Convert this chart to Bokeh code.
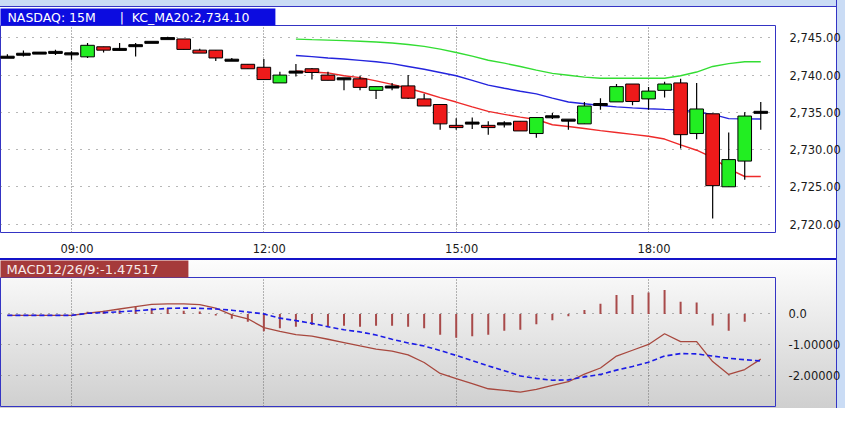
import numpy as np
from bokeh.plotting import figure
from bokeh.layouts import column
from bokeh.models import FixedTicker, NumeralTickFormatter, Range1d, Title
from bokeh.embed import file_html
from bokeh.resources import INLINE

# ---------------- data ----------------
time_ticks = [4, 16, 28, 40]
time_labels = ["09:00", "12:00", "15:00", "18:00"]

opens = [2742.4, 2742.8, 2742.95, 2743.05, 2742.85, 2742.45, 2743.8, 2743.45, 2743.95, 2744.4,
         2744.9, 2744.85, 2743.35, 2743.35, 2742.0, 2741.45, 2741.05, 2738.95, 2740.4, 2740.85,
         2740.0, 2739.5, 2739.5, 2737.95, 2738.4, 2738.55, 2736.8, 2736.05, 2733.25, 2733.55,
         2733.25, 2733.45, 2733.8, 2732.15, 2734.4, 2733.95, 2733.45, 2736.05, 2736.4, 2738.8,
         2736.8, 2737.95, 2738.95, 2732.15, 2734.8, 2725.0, 2728.45, 2735.0]
highs = [2742.8, 2743.3, 2742.95, 2743.4, 2743.2, 2744.3, 2743.8, 2744.3, 2744.3, 2744.4,
         2745.15, 2744.85, 2743.55, 2743.35, 2742.3, 2741.45, 2742.15, 2740.45, 2741.5, 2740.95,
         2740.45, 2739.5, 2739.9, 2738.45, 2738.95, 2740.0, 2737.5, 2736.05, 2734.2, 2734.3,
         2733.8, 2733.8, 2733.8, 2734.3, 2734.9, 2733.95, 2736.4, 2736.9, 2738.8, 2738.8,
         2738.4, 2739.1, 2739.5, 2738.95, 2734.8, 2732.3, 2735.0, 2736.4]
lows = [2742.4, 2742.5, 2742.95, 2742.7, 2742.05, 2742.3, 2743.05, 2743.3, 2742.5, 2744.4,
        2744.9, 2743.45, 2742.95, 2741.9, 2742.0, 2740.85, 2739.4, 2738.95, 2739.8, 2739.4,
        2739.3, 2737.95, 2737.95, 2736.8, 2737.95, 2736.8, 2735.85, 2732.65, 2732.65, 2732.75,
        2732.0, 2732.95, 2732.5, 2731.6, 2734.1, 2732.65, 2733.45, 2735.35, 2736.4, 2735.95,
        2735.35, 2737.0, 2730.15, 2731.4, 2720.75, 2725.0, 2725.95, 2732.65]
closes = [2742.4, 2742.8, 2742.95, 2743.05, 2742.85, 2744.0, 2743.35, 2743.45, 2743.95, 2744.4,
          2744.9, 2743.45, 2742.95, 2742.3, 2742.0, 2740.85, 2739.4, 2740.0, 2740.4, 2740.35,
          2739.3, 2739.5, 2738.35, 2738.45, 2738.4, 2736.9, 2735.85, 2733.45, 2732.95, 2733.55,
          2732.95, 2733.45, 2732.5, 2734.3, 2734.4, 2733.95, 2735.85, 2736.05, 2738.45, 2736.45,
          2737.85, 2738.8, 2732.0, 2735.45, 2725.15, 2728.65, 2734.5, 2735.0]

price_ticks = [2720, 2725, 2730, 2735, 2740, 2745]

kc_start = 18
kc_upper = [2744.83, 2744.76, 2744.70, 2744.63, 2744.54, 2744.44, 2744.31, 2744.10, 2743.85, 2743.48,
            2743.04, 2742.54, 2742.00, 2741.60, 2741.16, 2740.66, 2740.23, 2739.98, 2739.73, 2739.58,
            2739.58, 2739.58, 2739.58, 2739.58, 2739.91, 2740.41, 2741.16, 2741.54, 2741.79, 2741.79]
kc_mid = [2742.63, 2742.48, 2742.29, 2742.16, 2741.98, 2741.79, 2741.54, 2741.16, 2740.79, 2740.35,
          2739.91, 2739.29, 2738.66, 2738.23, 2737.83, 2737.48, 2736.91, 2736.38, 2736.16, 2735.91,
          2735.73, 2735.60, 2735.48, 2735.39, 2735.33, 2735.04, 2734.73, 2734.16, 2734.12, 2734.10]
kc_lower = [2740.54, 2740.41, 2740.29, 2739.91, 2739.66, 2739.23, 2738.75, 2738.23, 2737.63, 2736.98,
            2736.38, 2735.73, 2735.13, 2734.73, 2734.35, 2734.04, 2733.33, 2733.10, 2732.83, 2732.54,
            2732.29, 2732.04, 2731.79, 2731.41, 2730.63, 2729.91, 2728.91, 2727.41, 2726.38, 2726.38]

macd = [-0.05, -0.05, -0.05, -0.05, -0.05, 0.02, 0.08, 0.16, 0.24, 0.31,
        0.33, 0.33, 0.30, 0.19, -0.03, -0.16, -0.45, -0.57, -0.68, -0.73,
        -0.83, -0.94, -1.05, -1.15, -1.22, -1.34, -1.59, -1.95, -2.12, -2.28,
        -2.45, -2.50, -2.56, -2.47, -2.34, -2.22, -1.97, -1.77, -1.38, -1.19,
        -1.00, -0.65, -0.91, -0.91, -1.56, -1.98, -1.82, -1.48]
signal = [-0.05, -0.05, -0.05, -0.05, -0.05, 0.02, 0.04, 0.07, 0.10, 0.14,
          0.18, 0.19, 0.18, 0.16, 0.12, 0.06, 0.00, -0.14, -0.22, -0.31,
          -0.42, -0.52, -0.59, -0.69, -0.83, -0.95, -1.05, -1.20, -1.36, -1.53,
          -1.70, -1.86, -2.03, -2.11, -2.17, -2.16, -2.06, -1.98, -1.84, -1.72,
          -1.58, -1.38, -1.30, -1.31, -1.38, -1.45, -1.50, -1.54]
hist = [0.0, 0.0, 0.0, 0.0, 0.0, 0.07, 0.10, 0.12, 0.24, 0.18,
        0.18, 0.10, 0.08, -0.05, -0.16, -0.26, -0.57, -0.47, -0.42, -0.36,
        -0.42, -0.39, -0.42, -0.39, -0.39, -0.42, -0.47, -0.68, -0.78, -0.73,
        -0.68, -0.55, -0.52, -0.34, -0.21, -0.08, 0.13, 0.33, 0.62, 0.62,
        0.70, 0.78, 0.40, 0.37, -0.38, -0.55, -0.26, 0.0]
macd_ticks = [0, -1, -2]
macd_tick_labels = ["0.0", "-1.00000", "-2.00000"]

NB = "\u00a0"
header_text = "NASDAQ: 15M" + NB * 6 + "|" + NB * 2 + "KC_MA20:2,734.10"
macd_header = "MACD12/26/9:-1.47517"

# ---------------- layout ----------------
FONT = "DejaVu Sans"
W = 845
FRAME_W = 775
RIGHT = W - FRAME_W
TOP1, FRAME_H1, BOT1 = 25, 214, 19
TOP2, FRAME_H2, BOT2 = 18, 130, 2
H1 = TOP1 + FRAME_H1 + BOT1
H2 = TOP2 + FRAME_H2 + BOT2

X0, X1 = -0.43, 47.92
PY0, PY1 = 2718.86, 2746.66
MY0, MY1 = -3.03, 1.19
LABEL_SHIFT = 0.34  # time labels sit slightly right of their grid lines

GRID = "#6f6f6f"
OUTLINE = "#3434c4"
FRAME_BG = "#cadcf5"
EDGE = W - 9  # x of the outer right border line

idx = np.arange(len(opens))
o = np.array(opens); h = np.array(highs); l = np.array(lows); c = np.array(closes)
inc = c > o + 0.01
dec = o > c + 0.01
doj = ~(inc | dec)

right_band = (f"linear-gradient(to right, transparent {EDGE}px, {OUTLINE} {EDGE}px, "
              f"{OUTLINE} {EDGE + 1}px, {FRAME_BG} {EDGE + 1}px)")

# ---------------- price figure ----------------
t1 = Title(text=header_text, align="left", offset=0, standoff=0,
           text_color="white", text_font=FONT, text_font_size="12.5px",
           text_font_style="normal", background_fill_color="#0c0ce0",
           padding=dict(left=7, right=26, top=1, bottom=1))
p1 = figure(width=W, height=H1, output_backend="svg", toolbar_location=None,
            title=t1,
            x_range=Range1d(X0, X1), y_range=Range1d(PY0, PY1),
            y_axis_location="right", min_border_left=0, min_border_right=RIGHT,
            min_border_top=TOP1, min_border_bottom=BOT1,
            border_fill_color=None, background_fill_color="white",
            outline_line_color=OUTLINE, outline_line_width=1)
p1.styles = {"background": right_band + ", " +
             f"linear-gradient(to bottom, {FRAME_BG} 0px, {FRAME_BG} 6px, {OUTLINE} 6px, "
             f"{OUTLINE} 7px, white 7px)"}

label_ticks = [t + LABEL_SHIFT for t in time_ticks]
p1.xaxis.ticker = FixedTicker(ticks=label_ticks)
p1.xaxis.major_label_overrides = dict(zip(label_ticks, time_labels))
p1.yaxis.ticker = FixedTicker(ticks=price_ticks)
p1.yaxis.formatter = NumeralTickFormatter(format="0,0.00")
for ax in (p1.xaxis, p1.yaxis):
    ax.axis_line_color = None
    ax.major_tick_line_color = None
    ax.minor_tick_line_color = None
    ax.major_label_text_font = FONT
    ax.major_label_text_font_size = "11.5px"
    ax.major_label_text_color = "#1a1a1a"
p1.xaxis.major_label_standoff = 3
p1.yaxis.major_label_standoff = 8
p1.xgrid.ticker = FixedTicker(ticks=time_ticks)
p1.ygrid.ticker = FixedTicker(ticks=price_ticks)
p1.xgrid.grid_line_color = GRID
p1.xgrid.grid_line_dash = "1 2"
p1.ygrid.grid_line_color = GRID
p1.ygrid.grid_line_dash = "1 7"

kx = list(range(kc_start, kc_start + len(kc_mid)))
p1.line(kx, kc_upper, color="#33dd33", line_width=1.4)
p1.line(kx, kc_mid, color="#2424dd", line_width=1.4)
p1.line(kx, kc_lower, color="#ee2a2a", line_width=1.4)

p1.segment(x0=idx, y0=h, x1=idx, y1=l, color="black", line_width=1.2)
p1.vbar(x=idx[inc], width=0.85, top=c[inc], bottom=o[inc],
        fill_color="#22ee22", line_color="black", line_width=1)
p1.vbar(x=idx[dec], width=0.85, top=o[dec], bottom=c[dec],
        fill_color="#ee1a1a", line_color="black", line_width=1)
p1.rect(x=idx[doj], y=c[doj], width=0.85, height=2, height_units="screen",
        color="black")

# ---------------- MACD figure ----------------
t2 = Title(text=macd_header, align="left", offset=0, standoff=0,
           text_color="#f6eaea", text_font=FONT, text_font_size="13px",
           text_font_style="normal", background_fill_color="#a53a3a",
           padding=dict(left=6, right=30, top=1, bottom=1))
p2 = figure(width=W, height=H2, output_backend="svg", toolbar_location=None,
            title=t2,
            x_range=p1.x_range, y_range=Range1d(MY0, MY1),
            y_axis_location="right", x_axis_location=None,
            min_border_left=0, min_border_right=RIGHT,
            min_border_top=TOP2, min_border_bottom=BOT2,
            border_fill_color=None, background_fill_color=None,
            outline_line_color=OUTLINE, outline_line_width=1)
p2.styles = {"background": right_band + ", " +
             "linear-gradient(to bottom, #1414c8 0px, #1414c8 2px, #fdfdfd 2px, #cfcfcf 100%)"}

p2.yaxis.ticker = FixedTicker(ticks=macd_ticks)
p2.yaxis.major_label_overrides = dict(zip(macd_ticks, macd_tick_labels))
p2.yaxis.axis_line_color = None
p2.yaxis.major_tick_line_color = None
p2.yaxis.minor_tick_line_color = None
p2.yaxis.major_label_text_font = FONT
p2.yaxis.major_label_text_font_size = "11.5px"
p2.yaxis.major_label_text_color = "#1a1a1a"
p2.yaxis.major_label_standoff = 7
p2.xgrid.ticker = FixedTicker(ticks=time_ticks)
p2.ygrid.ticker = FixedTicker(ticks=macd_ticks)
p2.xgrid.grid_line_color = GRID
p2.xgrid.grid_line_dash = "1 2"
p2.ygrid.grid_line_color = GRID
p2.ygrid.grid_line_dash = "1 7"

p2.segment(x0=idx, y0=np.zeros(len(hist)), x1=idx, y1=hist, color="#a84a4a", line_width=2)
p2.line(idx, macd, color="#a8483e", line_width=1.3)
p2.line(idx, signal, color="#1c1ce6", line_width=1.6, line_dash="5 3")

layout = column(p1, p2, spacing=0)
open("out.html", "w").write(file_html(layout, INLINE))
